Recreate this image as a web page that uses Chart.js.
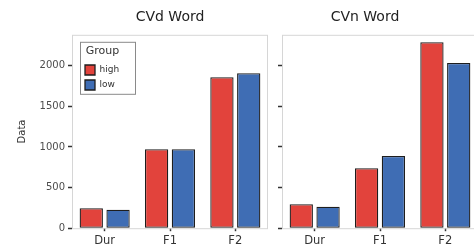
<!DOCTYPE html>
<html>
<head>
<meta charset="utf-8">
<script src="https://cdn.jsdelivr.net/npm/chart.js@4/dist/chart.umd.min.js"></script>
<style>
  html, body { margin: 0; padding: 0; background: #fff; overflow: hidden; width: 474px; height: 245px; }
  .panel { position: absolute; top: 0; }
</style>
</head>
<body>
<div class="panel" style="left:0px;width:270px;height:251px"><canvas id="cvd"></canvas></div>
<div class="panel" style="left:252px;width:226px;height:251px"><canvas id="cvn"></canvas></div>
<script>
const categories = ['Dur', 'F1', 'F2'];
const groups = ['high', 'low'];
const cvdHigh = [247, 972, 1857];
const cvdLow = [227, 972, 1906];
const cvnHigh = [296, 737, 2289];
const cvnLow = [264, 889, 2033];
const yTicks = [0, 500, 1000, 1500, 2000];
const yMax = 2380;

const red = '#E2433C';
const blue = '#3F6DB4';

Chart.defaults.font.family = '"DejaVu Sans", sans-serif';
Chart.defaults.animation = false;

// light grey frame round each panel, like the facet border
const panelFrame = {
    id: 'panelFrame',
    afterDatasetsDraw(chart) {
        const a = chart.chartArea;
        const ctx = chart.ctx;
        ctx.save();
        ctx.strokeStyle = '#d6d6d6';
        ctx.lineWidth = 1;
        ctx.strokeRect(a.left + 0.5, a.top + 0.5, a.right - a.left - 1, a.bottom - a.top);
        ctx.restore();
    }
};

// move the legend a bit inside the panel and draw its box
const legendBox = {
    id: 'legendBox',
    afterLayout(chart) {
        const lg = chart.legend;
        if (!lg || !lg.options.display) return;
        lg.left = chart.chartArea.left + 8;
        lg.top = chart.chartArea.top + 7;
        lg.width = 45;
    },
    afterDraw(chart) {
        const lg = chart.legend;
        if (!lg || !lg.options.display) return;
        const ctx = chart.ctx;
        ctx.save();
        ctx.strokeStyle = '#8a8a8a';
        ctx.lineWidth = 1;
        ctx.strokeRect(lg.left + 0.5, lg.top + 0.5, 55, 52);
        ctx.restore();
    }
};

function makeChart(id, title, highVals, lowVals, showLabels) {
    const ctx = document.getElementById(id).getContext('2d');
    return new Chart(ctx, {
        type: 'bar',
        data: {
            labels: categories,
            datasets: [{
                label: groups[0],
                data: highVals,
                backgroundColor: red,
                borderColor: '#1e1e1e',
                borderWidth: 1.3,
                borderSkipped: false,
                categoryPercentage: 0.82,
                barPercentage: 0.87
            }, {
                label: groups[1],
                data: lowVals,
                backgroundColor: blue,
                borderColor: '#1e1e1e',
                borderWidth: 1.3,
                borderSkipped: false,
                categoryPercentage: 0.82,
                barPercentage: 0.87
            }]
        },
        options: {
            responsive: true,
            maintainAspectRatio: false,
            layout: { padding: { left: 0, right: showLabels ? 2 : 0, top: 0, bottom: 0 } },
            plugins: {
                title: {
                    display: true,
                    text: title,
                    color: '#222',
                    fullSize: !showLabels,
                    font: { size: 14, weight: 'normal' },
                    padding: { top: 9, bottom: 9 }
                },
                legend: {
                    display: showLabels,
                    position: 'chartArea',
                    align: 'start',
                    title: {
                        display: true,
                        text: 'Group',
                        color: '#333',
                        font: { size: 11 },
                        padding: { top: 4, bottom: 1 }
                    },
                    labels: {
                        boxWidth: 10,
                        boxHeight: 10,
                        padding: 5,
                        color: '#333',
                        font: { size: 9 }
                    }
                },
                tooltip: { enabled: false }
            },
            scales: {
                x: {
                    offset: true,
                    grid: {
                        offset: false,
                        drawOnChartArea: false,
                        tickLength: 3,
                        tickColor: '#333',
                        tickWidth: 1.5
                    },
                    border: { display: false },
                    ticks: { color: '#333', font: { size: 11.5 }, padding: 3 }
                },
                y: {
                    min: 0,
                    max: yMax,
                    afterBuildTicks: (scale) => {
                        scale.ticks = yTicks.map(v => ({ value: v }));
                    },
                    afterFit: (scale) => {
                        scale.width = showLabels ? 72 : 30;
                    },
                    grid: {
                        drawOnChartArea: false,
                        tickLength: 4,
                        tickColor: '#333',
                        tickWidth: 1.5
                    },
                    border: { display: false },
                    ticks: {
                        color: '#4d4d4d',
                        font: { size: 10 },
                        padding: 3,
                        callback: (v) => showLabels ? v : ''
                    },
                    title: {
                        display: showLabels,
                        text: 'Data',
                        color: '#333',
                        font: { size: 10 },
                        padding: { top: 16, bottom: 0 }
                    }
                }
            }
        },
        plugins: [panelFrame, legendBox]
    });
}

makeChart('cvd', 'CVd Word', cvdHigh, cvdLow, true);
makeChart('cvn', 'CVn Word', cvnHigh, cvnLow, false);
</script>
</body>
</html>
